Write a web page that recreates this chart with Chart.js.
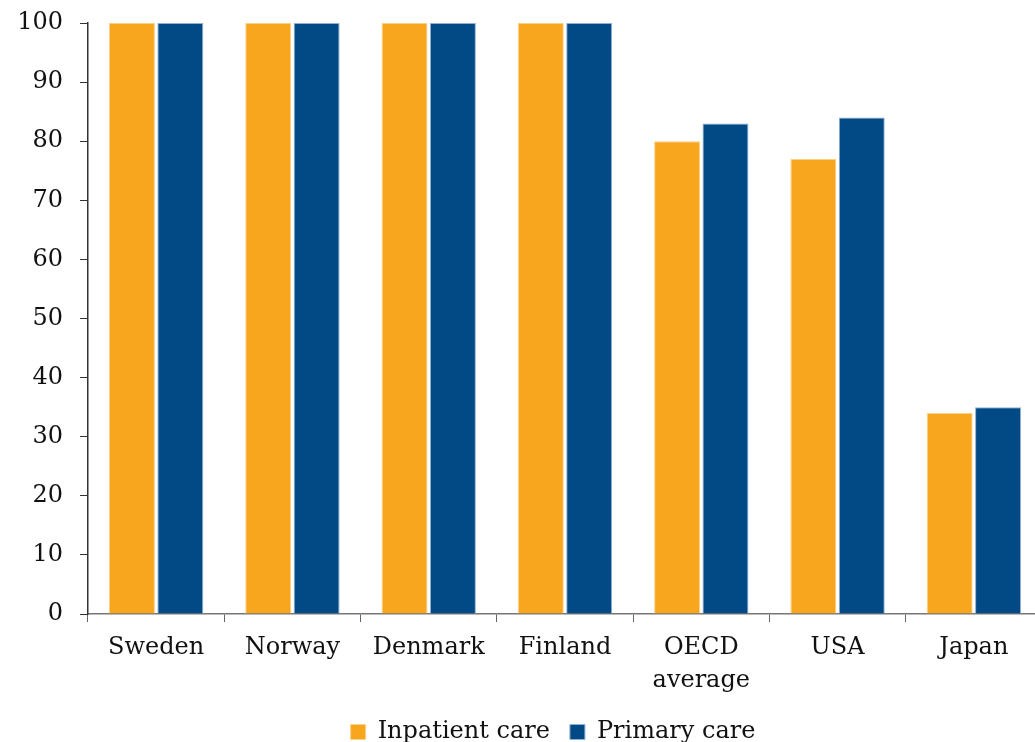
<!DOCTYPE html>
<html>
<head>
<meta charset="utf-8">
<script src="https://cdn.jsdelivr.net/npm/chart.js@4.4.1/dist/chart.umd.min.js"></script>
<style>
  body { margin: 0; background: #fff; overflow: hidden; }
  #wrap { width: 1042px; height: 742px; }
</style>
</head>
<body>
<div id="wrap"><canvas id="careChart"></canvas></div>
<script>
// data
const countries = ['Sweden', 'Norway', 'Denmark', 'Finland', ['OECD', 'average'], 'USA', 'Japan'];
const inpatientCare = [100, 100, 100, 100, 80, 77, 34];
const primaryCare = [100, 100, 100, 100, 83, 84, 35];
const yTicks = [0, 10, 20, 30, 40, 50, 60, 70, 80, 90, 100];

const serif = "'DejaVu Serif', 'Liberation Serif', serif";

// legend in the original sits a little left of the plot centre
const legendNudge = {
    id: 'legendNudge',
    afterLayout(chart) {
        const lg = chart.legend;
        if (!lg) return;
        lg.left -= 12; lg.right -= 12;
    }
};

const ctx = document.getElementById('careChart').getContext('2d');
new Chart(ctx, {
    type: 'bar',
    data: {
        labels: countries,
        datasets: [
            {
                label: 'Inpatient care',
                data: inpatientCare,
                backgroundColor: '#f8a61e',
                borderColor: '#fbd08a',
                borderWidth: 1,
                barPercentage: 0.95,
                categoryPercentage: 0.71
            },
            {
                label: 'Primary care',
                data: primaryCare,
                backgroundColor: '#024a86',
                borderColor: '#8fb0d2',
                borderWidth: 1,
                barPercentage: 0.95,
                categoryPercentage: 0.71
            }
        ]
    },
    options: {
        responsive: true,
        maintainAspectRatio: false,
        animation: false,
        // legend hangs a bit off the bottom edge like in the source image
        layout: { padding: { top: 0, right: 0, left: 0, bottom: -12 } },
        plugins: {
            legend: {
                position: 'bottom',
                fullSize: false,
                labels: {
                    font: { family: serif, size: 24 },
                    color: '#111',
                    boxWidth: 15,
                    boxHeight: 15,
                    padding: 20
                }
            },
            tooltip: { enabled: false }
        },
        scales: {
            x: {
                grid: { offset: true, drawOnChartArea: false, tickLength: 8, color: '#666' },
                border: { color: '#777', width: 1.5 },
                ticks: { font: { family: serif, size: 24, lineHeight: 1.38 }, color: '#111', padding: 9, maxRotation: 0 },
                afterFit: s => { s.height = 86; }
            },
            y: {
                min: 0,
                max: 100,
                afterBuildTicks: s => { s.ticks = yTicks.map(v => ({ value: v })); },
                grid: { drawOnChartArea: false, tickLength: 8, color: '#333' },
                border: { color: '#333', width: 1.5 },
                ticks: { font: { family: serif, size: 24 }, color: '#111', padding: 17 },
                afterFit: s => { s.width = 88; s.paddingTop = 23; s.paddingBottom = 0; }
            }
        }
    },
    plugins: [legendNudge]
});
</script>
</body>
</html>
